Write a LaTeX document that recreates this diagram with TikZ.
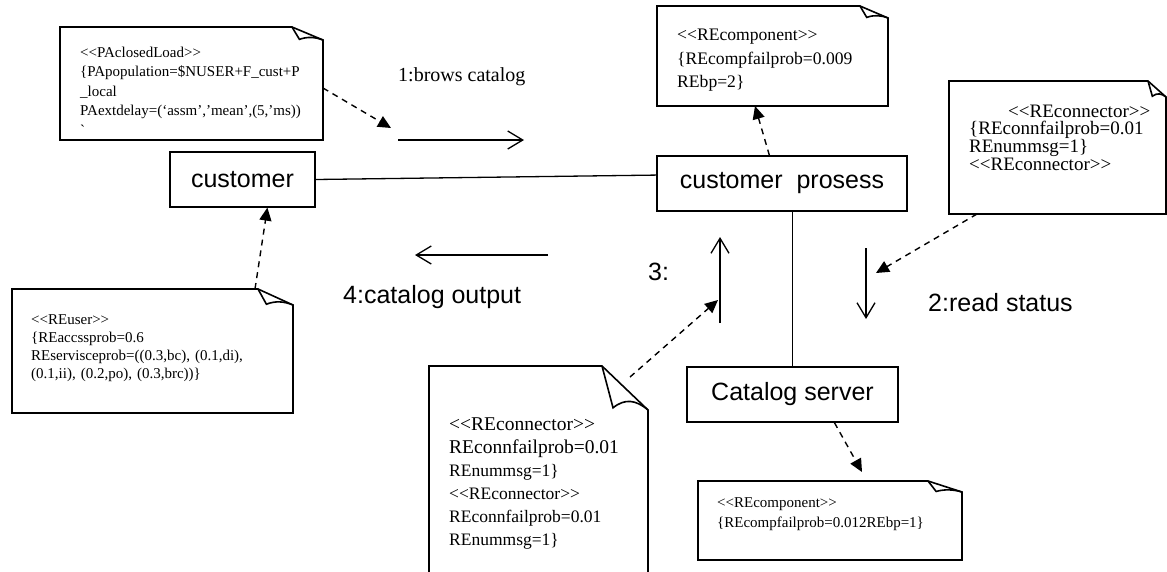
\documentclass[tikz,border=0pt]{standalone}
\usepackage{fontspec}
\setmainfont{Liberation Serif}[Ligatures=TeXOff]
\newfontfamily\lsans{Liberation Sans}
\usetikzlibrary{calc,arrows.meta}
\setlength{\parindent}{0pt}
\setlength{\lineskiplimit}{-20pt}
\tikzset{
  noteline/.style={line width=1.6pt, line join=miter},
  notebox/.style={draw=none, inner sep=0pt, outer sep=0pt, anchor=north west},
  notetext/.style={inner sep=0pt, anchor=north west, align=left, text width=320pt},
  compbox/.style={draw, line width=1.2pt, inner sep=0pt, minimum height=55pt,
    font=\lsans\fontsize{25}{30}\selectfont},
  conn/.style={line width=1.3pt},
  msg/.style={line width=1.3pt, -{Straight Barb[length=15pt,width=18pt,line width=1.3pt]}},
  attach/.style={line width=1.4pt, dash pattern=on 6pt off 5pt,
    -{Triangle[length=13pt,width=12pt]}},
  msglabel/.style={inner sep=0pt, anchor=west},
}
% outline of a note with a folded corner: node name, fold width, fold height
\newcommand{\notedraw}[3]{%
  \draw[noteline] (#1.north west) -- ($(#1.north east)+(-#2,0)$)
    -- ($(#1.north east)+(0,-#3)$) -- (#1.south east) -- (#1.south west) -- cycle;
  \draw[noteline] ($(#1.north east)+(-#2,0)$)
    -- ($(#1.north east)+(-0.76*#2,-0.95*#3)$)
    .. controls ($(#1.north east)+(-0.5*#2,-0.73*#3)$) and ($(#1.north east)+(-0.26*#2,-0.77*#3)$)
    .. ($(#1.north east)+(0,-#3)$);
}
\begin{document}
\begin{tikzpicture}[x=1pt,y=1pt]
\useasboundingbox (0,0) rectangle (1167,-571);

% ---------- notes ----------
\node[notebox, minimum width=263pt, minimum height=113pt] (n1) at (60,-27) {};
\notedraw{n1}{31}{13}
\node[notetext, font=\fontsize{15}{19.5}\selectfont] (n1t) at (80,-46.5)
  {<<PAclosedLoad>>\\
   \{PApopulation=\$NUSER+F\_cust+P\\
   \_local\\
   PAextdelay=(‘assm’,’mean’,(5,’ms))\\
   `};

\node[notebox, minimum width=231pt, minimum height=100pt] (n2) at (657,-6) {};
\notedraw{n2}{28}{12}
\node[notetext, font=\fontsize{17.6}{23.5}\selectfont] (n2t) at (677,-29)
  {<<REcomponent>>\\
   \{REcompfailprob=0.009\\
   REbp=2\}};

\node[notebox, minimum width=217pt, minimum height=133pt] (n3) at (949,-81) {};
\notedraw{n3}{18}{16}
\node[notetext, font=\fontsize{19}{17.7}\selectfont] (n3t) at (969,-104.5)
  {\hspace*{39pt}<<REconnector>>\\
   \{REconnfailprob=0.01\\
   REnummsg=1\}\\
   <<REconnector>>};

\node[notebox, minimum width=219pt, minimum height=214pt] (n4) at (429,-366) {};
\notedraw{n4}{46}{44}
\node[notetext, font=\fontsize{19.5}{23}\selectfont] (n4t) at (449,-418)
  {<<REconnector>>\\
   REconnfailprob=0.01\\
   \fontsize{17.5}{23}\selectfont
   REnummsg=1\}\\
   <<REconnector>>\\
   REconnfailprob=0.01\\
   REnummsg=1\}};

\node[notebox, minimum width=264pt, minimum height=79pt] (n5) at (698,-481) {};
\notedraw{n5}{34}{11}
\node[notetext, font=\fontsize{15}{20.5}\selectfont] (n5t) at (717,-497)
  {<<REcomponent>>\\
   \{REcompfailprob=0.012REbp=1\}};

\node[notebox, minimum width=281pt, minimum height=124pt] (n6) at (12,-289) {};
\notedraw{n6}{35}{16}
\node[notetext, font=\fontsize{15}{18}\selectfont] (n6t) at (31,-314.5)
  {<<REuser>>\\
   \{REaccssprob=0.6\\
   REservisceprob=((0.3,bc), (0.1,di),\\
   (0.1,ii), (0.2,po), (0.3,brc))\}};

% ---------- components ----------
\node[compbox, minimum width=145pt] (cust) at (242.5,-179.5) {customer};
\node[compbox, minimum width=250pt] (cp) at (782,-183.5) {customer\ \ prosess};
\node[compbox, minimum width=211pt] (cs) at (792.5,-394.5) {Catalog server};

\draw[conn] (cust.east) -- ($(cp.north west)!0.35!(cp.south west)$);
\draw[conn] (cs.north |- cp.south) -- (cs.north);

% ---------- messages ----------
\coordinate (m1s) at (398,-140);
\coordinate (m1e) at (524,-140);
\coordinate (m4s) at (548,-255);
\coordinate (m4e) at (415,-255);
\coordinate (m2s) at (866,-248);
\coordinate (m2e) at (866,-319);
\coordinate (m3s) at (720,-323);
\coordinate (m3e) at (720,-237);
\draw[msg] (m1s) -- (m1e);
\draw[msg] (m4s) -- (m4e);
\draw[msg] (m2s) -- (m2e);
\draw[msg] (m3s) -- (m3e);

\node[msglabel, font=\fontsize{20}{24}\selectfont] (l1) at (398,-77) {1:brows catalog};
\node[msglabel, font=\lsans\fontsize{25}{30}\selectfont] (l4) at (343,-297) {4:catalog output};
\node[msglabel, font=\lsans\fontsize{25}{30}\selectfont] (l2) at (928,-303) {2:read status};
\node[msglabel, font=\lsans\fontsize{25}{30}\selectfont] (l3) at (648,-272) {3:};

% ---------- note attachments ----------
\coordinate (a1) at (391,-128);
\coordinate (a3) at (876,-273);
\coordinate (a4) at (718,-300);
\draw[attach] ($(n1.north east)!0.54!(n1.south east)$) -- (a1);
\draw[attach] ($(cp.north west)+(113,0)$) -- ($(n2.south west)+(98,0)$);
\draw[attach] ($(n3.south west)+(28,0)$) -- (a3);
\draw[attach] ($(n4.north east)+(-18,-11)$) -- (a4);
\draw[attach] ($(cs.south west)+(148,0)$) -- ($(n5.north west)+(164,9)$);
\draw[attach] ($(n6.north east)+(-38,0)$) -- ($(cust.south west)+(98,0)$);
\end{tikzpicture}
\end{document}
